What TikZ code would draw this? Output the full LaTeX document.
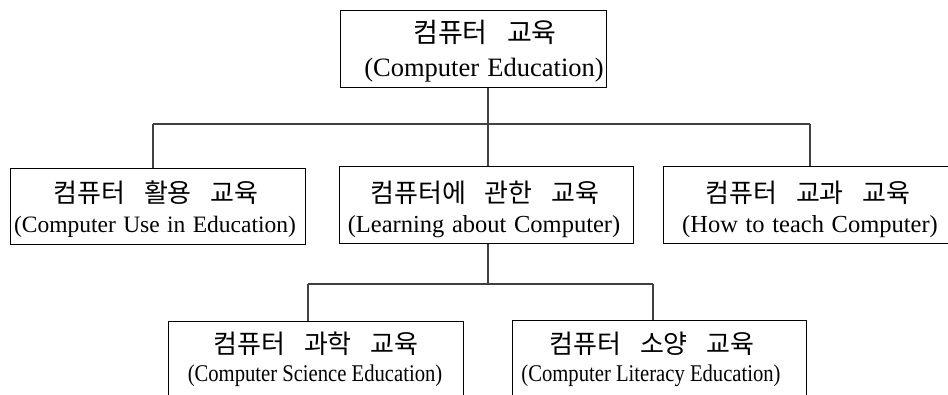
\documentclass[tikz,border=0pt]{standalone}
\usepackage{fontspec}
\setmainfont[WordSpace=1.25]{Liberation Serif}
\newfontfamily\kr[WordSpace=3.2]{Noto Sans CJK KR}
\newfontfamily\condlat[FakeStretch=0.86]{Liberation Serif}
\begin{document}
\begin{tikzpicture}[x=1pt,y=-1pt,
  box/.style={draw=black, line width=1.2pt, anchor=north west, inner sep=0pt},
  conn/.style={draw=black!75, line width=1.2pt},
  kbig/.style={font=\kr\fontsize{27}{30}\selectfont, inner sep=0pt, anchor=center},
  lbig/.style={font=\fontsize{26.5}{30}\selectfont, inner sep=0pt, anchor=base},
  kmid/.style={font=\kr\fontsize{26}{28}\selectfont, inner sep=0pt, anchor=center},
  lmid/.style={font=\fontsize{#1}{28}\selectfont, inner sep=0pt, anchor=base},
  lmid/.default=24,
  lcond/.style={font=\condlat\fontsize{24}{28}\selectfont, inner sep=0pt, anchor=base}
]
\clip (0,0) rectangle (948,394);
\fill[white] (0,0) rectangle (948,394);
% boxes
\node[box, minimum width=266pt, minimum height=77pt] (top) at (340,10) {};
\node[box, minimum width=295pt, minimum height=76pt] (l) at (10,168) {};
\node[box, minimum width=294pt, minimum height=77pt] (m) at (339,166) {};
\node[box, minimum width=295pt, minimum height=77pt] (r) at (663,166) {};
\node[box, minimum width=295pt, minimum height=90pt] (bl) at (168,321) {};
\node[box, minimum width=294pt, minimum height=90pt] (br) at (512,320) {};
% texts
\node[kbig] (topk) at (485,32.5) {컴퓨터 교육};
\node[lbig] (topl) at (484,76) {(Computer Education)};
\node[kmid] (lk) at (156,192.5) {컴퓨터 활용 교육};
\node[lmid=23.5] (ll) at (155,232) {(Computer Use in Education)};
\node[kmid] (mk) at (485,192.5) {컴퓨터에 관한 교육};
\node[lmid=24.5] (ml) at (484,232) {(Learning about Computer)};
\node[kmid] (rk) at (808,192.5) {컴퓨터 교과 교육};
\node[lmid=24.5] (rl) at (810,232) {(How to teach Computer)};
\node[kmid] (blk) at (316,344) {컴퓨터 과학 교육};
\node[lcond] (bll) at (315,381) {(Computer Science Education)};
\node[kmid] (brk) at (652,344) {컴퓨터 소양 교육};
\node[lcond] (brl) at (651,381) {(Computer Literacy Education)};
% connectors
\coordinate (j1) at (488,124);
\coordinate (jl) at (153,124);
\coordinate (jr) at (810,124);
\coordinate (j2) at (488,284);
\coordinate (jbl) at (308,284);
\coordinate (jbr) at (653,284);
\draw[conn] (top.south -| j1) -- (j1);
\draw[conn] (jl) -- (jr);
\draw[conn] (jl) -- (jl |- l.north);
\draw[conn] (j1) -- (j1 |- m.north);
\draw[conn] (jr) -- (jr |- r.north);
\draw[conn] (m.south -| j2) -- (j2);
\draw[conn] (jbl) -- (jbr);
\draw[conn] (jbl) -- (jbl |- bl.north);
\draw[conn] (jbr) -- (jbr |- br.north);
\end{tikzpicture}
\end{document}
